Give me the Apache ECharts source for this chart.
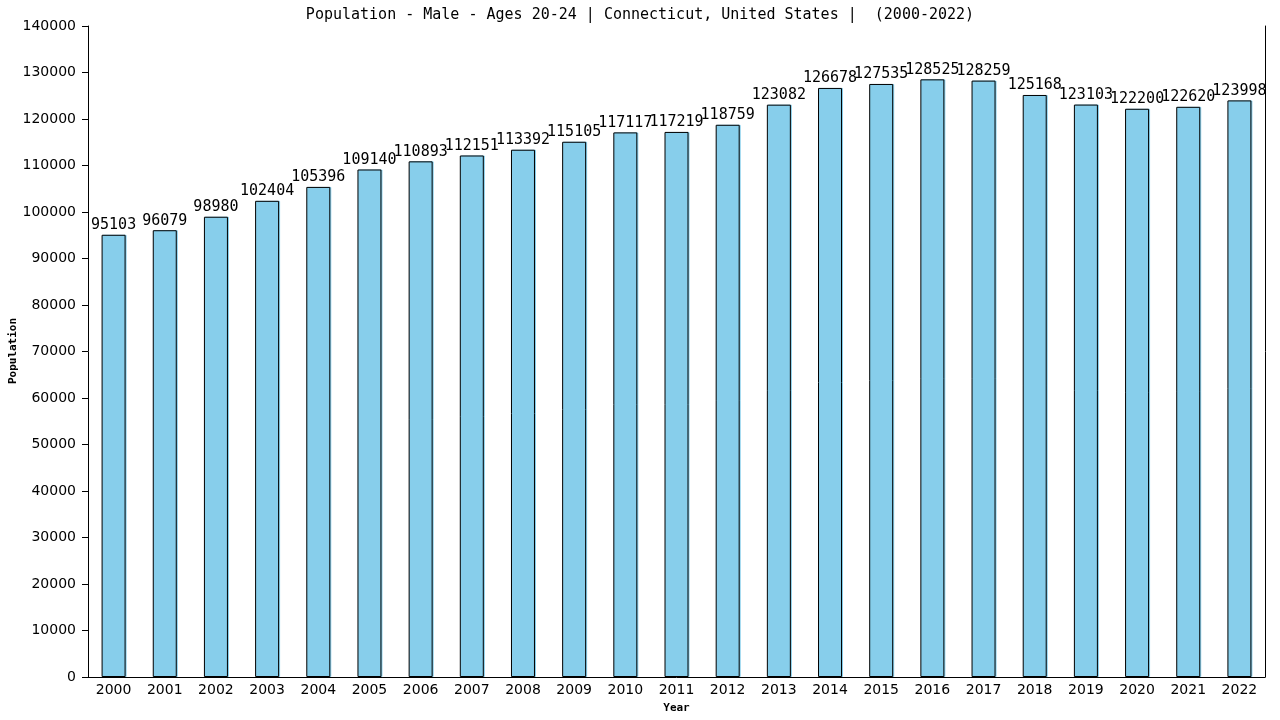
<!DOCTYPE html>
<html>
<head>
<meta charset="utf-8">
<script src="https://cdn.jsdelivr.net/npm/echarts@6/dist/echarts.min.js"></script>
<style>
  html, body { margin: 0; padding: 0; background: #fff; }
  #chart { width: 1280px; height: 720px; }
</style>
</head>
<body>
<div id="chart"></div>
<script>
// years on the x axis
const years = ["2000", "2001", "2002", "2003", "2004", "2005", "2006", "2007", "2008", "2009", "2010", "2011",
  "2012", "2013", "2014", "2015", "2016", "2017", "2018", "2019", "2020", "2021", "2022"]
// male population ages 20-24
const population = [95103, 96079, 98980, 102404, 105396, 109140, 110893, 112151, 113392, 115105, 117117, 117219,
  118759, 123082, 126678, 127535, 128525, 128259, 125168, 123103, 122200, 122620, 123998]

const titleText = "Population - Male - Ages 20-24 | Connecticut, United States |  (2000-2022)"
const nameFont = { fontFamily: "DejaVu Sans Mono", fontSize: 11, fontWeight: "bold", color: "#000" }

let chart = echarts.init(document.getElementById("chart"))
let option = {
  animation: false,
  title: {
    text: titleText,
    left: "center",
    top: 3,
    textStyle: {
      fontFamily: "DejaVu Sans Mono",
      fontSize: 15,
      fontWeight: "normal",
      color: "#000",
    },
  },
  // y axis title, placed by hand so v6 does not push it away from the labels
  graphic: [
    {
      type: "text",
      x: 13,
      y: 351,
      rotation: Math.PI / 2,
      style: {
        text: "Population",
        font: "bold 11px 'DejaVu Sans Mono'",
        fill: "#000",
        align: "center",
        verticalAlign: "middle",
      },
    },
  ],
  grid: { left: 88, right: 15, top: 26, bottom: 43, outerBoundsMode: "none" },
  xAxis: {
    type: "category",
    data: years,
    name: "Year",
    nameLocation: "middle",
    nameGap: 26,
    nameTextStyle: nameFont,
    axisLine: { lineStyle: { color: "#000", width: 1 } },
    axisTick: { show: false },
    axisLabel: { fontFamily: "DejaVu Sans", fontSize: 14, color: "#000", margin: 6 },
  },
  yAxis: [
    {
      type: "value",
      min: 0,
      max: 140000,
      interval: 10000,
      axisLine: { show: true, lineStyle: { color: "#000", width: 1 } },
      axisTick: { show: true, length: 6, lineStyle: { color: "#000" } },
      axisLabel: {
        fontFamily: "DejaVu Sans",
        fontSize: 14,
        color: "#000",
        margin: 12,
        formatter: v => String(v),
      },
      splitLine: { show: false },
    },
    {
      type: "value",
      min: 0,
      max: 140000,
      position: "right",
      axisLine: { show: true, lineStyle: { color: "#000", width: 1 } },
      axisTick: { show: false },
      axisLabel: { show: false },
      splitLine: { show: false },
    },
  ],
  series: [
    {
      type: "bar",
      data: population,
      barWidth: 24,
      itemStyle: {
        color: "#87CEEB",
        borderColor: "#000",
        borderWidth: 1,
        shadowColor: "#87CEEB",
        shadowOffsetX: 1,
        shadowOffsetY: 0,
      },
      label: {
        show: true,
        position: "top",
        distance: 2,
        fontFamily: "DejaVu Sans Mono",
        fontSize: 15,
        color: "#000",
      },
    },
  ],
}
chart.setOption(option)
</script>
</body>
</html>
